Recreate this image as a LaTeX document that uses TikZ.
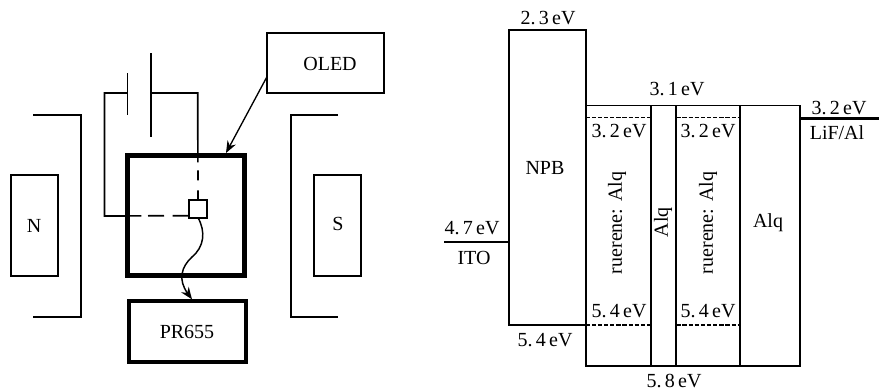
\documentclass[tikz,border=0pt]{standalone}
\usepackage{fontspec}
\setmainfont{Liberation Serif}
\usetikzlibrary{arrows.meta,positioning,calc}

\begin{document}
\begin{tikzpicture}[
    x=0.75pt,
    y=-0.75pt,
    >={Stealth[length=9pt,width=7pt]},
    wire/.style={draw, line width=1.25pt},
    box/.style={
        rectangle,
        draw,
        line width=#1,
        outer sep=0pt,
        inner sep=0pt
    },
    box/.default=1.25pt,
    label/.style={font=\fontsize{15}{18}\selectfont, inner sep=0pt},
    level/.style={line width=1.4pt, dash pattern=on 3.2pt off 1.4pt}
]
\useasboundingbox (0,0) rectangle (879,390);

% Magnet
\node[box, minimum width=35pt, minimum height=76pt] (north pole) at (34.5,225.5) {};
\node[box, minimum width=35pt, minimum height=76pt] (south pole) at (337.5,225.5) {};
\node[label] (north label) at (34,226) {N};
\node[label] (south label) at (338,224) {S};
\coordinate (north top) at (33,115);
\coordinate (north bottom) at (33,317);
\coordinate (south top) at (338,115);
\coordinate (south bottom) at (338,317);
\draw[wire] (north top) -- (81,115) -- (81,317) -- (north bottom);
\draw[wire] (south top) -- (291,115) -- (291,317) -- (south bottom);

% Chamber and spectrometer
\node[box=3.8pt, minimum width=88pt, minimum height=90pt] (chamber) at (186,215.5) {};
\node[box=2.6pt, minimum width=88pt, minimum height=46pt] (spectro) at (187.5,331.5) {};
\node[label] at (187,332) {PR655};
\node[box=1.3pt, minimum width=13pt, minimum height=13pt, fill=white] (sample) at (198,209) {};
\node[box, minimum width=88pt, minimum height=45pt] (oled) at (325.5,63) {};
\node[label] at (330,64) {OLED};

% Battery
\coordinate (plate a) at (127.5,93);
\coordinate (plate b) at (151,93);
\draw[wire] (127.5,73) -- (127.5,115);
\draw[wire] (151,53) -- (151,137);
\draw[wire, dash pattern=on 7.5pt off 7.5pt on 7.5pt off 6pt on 200pt]
    (sample.north) -- (197.7,93) -- (plate b);
\draw[wire, dash pattern=on 12.5pt off 6.5pt on 12pt off 5pt on 300pt]
    ($(sample.south west)+(0,-2)$) -- (104.5,216) -- (104.5,93) -- (plate a);

% Arrows
\draw[->, line width=1pt] ($(oled.south west)+(0,-16)$) -- ($(chamber.north)+(40,-2.5)$);
\draw[->, line width=1.1pt] (sample.south) .. controls (206,232) and (204,247) .. (192,257)
    .. controls (181,267) and (178,280) .. ($(spectro.north)+(4.5,-1.5)$);

% Energy levels
\node[box, minimum width=57.3pt, minimum height=221.3pt] (npb) at (547.5,177.5) {};
\node[box, minimum width=48.8pt, minimum height=195.4pt] (emit a) at (618.2,235.7) {};
\node[box, minimum width=19.2pt, minimum height=195.4pt] (block) at (663.5,235.7) {};
\node[box, minimum width=47.8pt, minimum height=195.4pt] (emit b) at (708.2,235.7) {};
\node[box, minimum width=45pt, minimum height=195.4pt] (alq) at (770,235.7) {};

\coordinate (ito end) at (444,241.7);
\coordinate (lif end) at (879,118.5);
\draw[line width=1.6pt] (ito end) -- (ito end -| npb.west);
\draw[line width=1.6pt] (lif end) -- (lif end -| alq.east);
\draw[level] ($(emit a.north west)+(0,12)$) -- ($(emit a.north east)+(0,12)$);
\draw[level] ($(emit b.north west)+(0,12)$) -- ($(emit b.north east)+(0,12)$);
\draw[level] ($(emit a.south west)+(0,-41)$) -- ($(emit a.south east)+(0,-41)$);
\draw[level] ($(emit b.south west)+(0,-41)$) -- ($(emit b.south east)+(0,-41)$);

% Layer names
\node[label] at (545,168) {NPB};
\node[label, rotate=90] at (617,223) {ruerene: Alq};
\node[label, rotate=90] at (708,223) {ruerene: Alq};
\node[label, rotate=90] at (663,222) {Alq};
\node[label] at (768,223) {Alq};
\node[label] at (474,258) {ITO};
\node[label] at (837,133) {LiF/Al};

% Level values
\node[label] at (548,18) {2.\,3\,eV};
\node[label] at (677,89) {3.\,1\,eV};
\node[label] at (839,108) {3.\,2\,eV};
\node[label] at (619,131) {3.\,2\,eV};
\node[label] at (708,131) {3.\,2\,eV};
\node[label] at (472,228) {4.\,7\,eV};
\node[label] at (619,311) {5.\,4\,eV};
\node[label] at (708,311) {5.\,4\,eV};
\node[label] at (545,340) {5.\,4\,eV};
\node[label] at (674,381) {5.\,8\,eV};

\end{tikzpicture}
\end{document}
